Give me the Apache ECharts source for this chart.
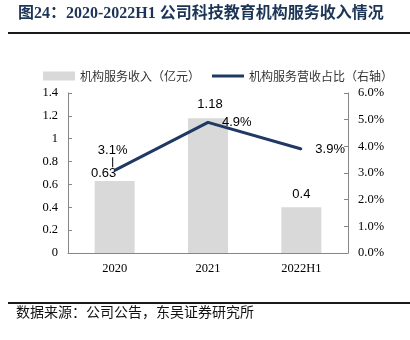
<!DOCTYPE html>
<html><head><meta charset="utf-8">
<script src="https://cdn.jsdelivr.net/npm/echarts@6/dist/echarts.min.js"></script>
<style>html,body{margin:0;padding:0;background:#fff}#c{width:410px;height:340px}</style>
</head><body><div id="c"></div>
<script>
const titleText = '图24：2020-2022H1 公司科技教育机构服务收入情况';
const sourceText = '数据来源：公司公告，东吴证券研究所';
const categories = ['2020', '2021', '2022H1'];
const revenue = [0.63, 1.18, 0.4];
const share = [3.1, 4.9, 3.9];
const barName = '机构服务收入（亿元）';
const lineName = '机构服务营收占比（右轴）';
const leftTicks = { min: 0, max: 1.4, interval: 0.2 };
const rightTicks = { min: 0, max: 6, interval: 1 };

const barLabelOffsets = [[-11, 4], [2, -2], [0, -1]];
const serif = "'Liberation Serif','Times New Roman',serif";
const sans = "'Liberation Sans',Arial,sans-serif";
const cjk = "'Noto Sans CJK SC',sans-serif";
const axisColor = '#868686';

const chart = echarts.init(document.getElementById('c'));
chart.setOption({
  animation: false,
  backgroundColor: '#fff',
  graphic: [
    { type: 'text', left: 18, top: 6, style: { text: titleText, font: "bold 16px 'Liberation Serif','Noto Sans CJK SC',serif", fill: '#1c3557' } },
    { type: 'rect', left: 8, top: 32, shape: { width: 402, height: 2 }, style: { fill: '#1a1a1a' } },
    { type: 'rect', left: 8, top: 302, shape: { width: 402, height: 2 }, style: { fill: '#1a1a1a' } },
    { type: 'text', left: 16, top: 305, style: { text: sourceText, font: "14px 'Noto Sans CJK SC',sans-serif", fill: '#111' } }
  ],
  legend: {
    left: 38, top: 65, itemGap: 12, itemWidth: 32, itemHeight: 9,
    textStyle: { fontFamily: cjk, fontSize: 12, color: '#333' },
    data: [
      { name: barName, icon: 'rect' },
      { name: lineName, icon: 'path://M0,0 L32,0 L32,3 L0,3 Z' }
    ]
  },
  grid: { left: 68, right: 62, top: 93, bottom: 87 },
  xAxis: {
    type: 'category', data: categories,
    axisLine: { lineStyle: { color: axisColor } },
    axisTick: { inside: true, length: 4, lineStyle: { color: axisColor } },
    axisLabel: { fontFamily: serif, fontSize: 12.5, color: '#000', margin: 9 }
  },
  yAxis: [
    {
      type: 'value', min: leftTicks.min, max: leftTicks.max, interval: leftTicks.interval,
      axisLine: { show: true, lineStyle: { color: axisColor } },
      axisTick: { show: true, inside: true, length: 4, lineStyle: { color: axisColor } },
      splitLine: { show: false },
      axisLabel: { fontFamily: serif, fontSize: 12.5, color: '#000', margin: 10,
        formatter: v => String(+v.toFixed(1)) }
    },
    {
      type: 'value', min: rightTicks.min, max: rightTicks.max, interval: rightTicks.interval,
      axisLine: { show: true, lineStyle: { color: axisColor } },
      axisTick: { show: true, inside: true, length: 4, lineStyle: { color: axisColor } },
      splitLine: { show: false },
      axisLabel: { fontFamily: serif, fontSize: 12.5, color: '#000', margin: 10,
        formatter: v => v.toFixed(1) + '%' }
    }
  ],
  series: [
    {
      name: barName, type: 'bar', barWidth: 40, yAxisIndex: 0,
      itemStyle: { color: '#d9d9d9' },
      data: revenue.map((v, i) => ({ value: v, label: { offset: barLabelOffsets[i] } })),
      label: { show: true, position: 'top', distance: 5, fontFamily: sans, fontSize: 13, color: '#000' }
    },
    {
      name: lineName, type: 'line', yAxisIndex: 1,
      symbol: 'circle', symbolSize: 2, showSymbol: true,
      lineStyle: { color: '#1f3864', width: 3 },
      itemStyle: { color: '#1f3864' },
      data: share.map((v, i) => i === 0
        ? { value: v, label: { position: 'top', distance: 2, offset: [-2, 0],
            formatter: p => p.value.toFixed(1) + '%\n{l| }' } }
        : { value: v }),
      label: { show: true, position: 'right', distance: 13, fontFamily: sans, fontSize: 13, color: '#000',
        formatter: p => p.value.toFixed(1) + '%',
        rich: { l: { width: 1, height: 10, lineHeight: 10, backgroundColor: '#000', fontSize: 1 } } }
    }
  ]
});
</script></body></html>
